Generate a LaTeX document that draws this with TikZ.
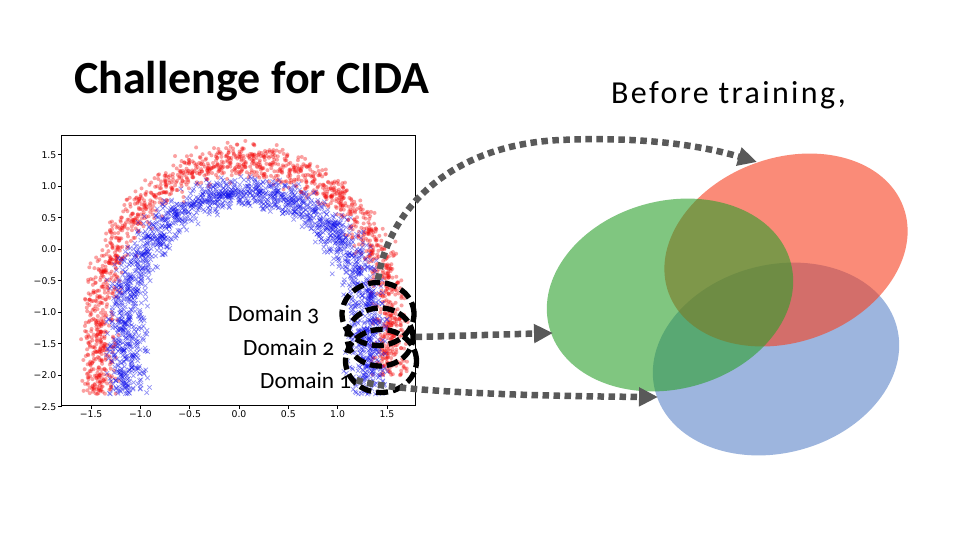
\documentclass[tikz,border=0pt]{standalone}
\usepackage{fontspec}
\setmainfont{Carlito}
\newfontfamily\domfont[Numbers=OldStyle]{Carlito}
\newfontfamily\befont[LetterSpace=7.5]{Carlito}
\newfontfamily\tickfont{DejaVu Sans}
\usetikzlibrary{arrows.meta,shapes.geometric}
\definecolor{arrgray}{HTML}{595959}
\definecolor{gEll}{RGB}{44,160,44}
\definecolor{rEll}{RGB}{247,63,30}
\definecolor{bEll}{RGB}{93,133,200}
\definecolor{dotred}{RGB}{245,10,10}
\definecolor{xblue}{RGB}{15,15,235}
\begin{document}
\begin{tikzpicture}[x=1pt,y=-1pt,
  flowarrow/.style={draw=arrgray, line width=6.5pt, dash pattern=on 6.5pt off 4.5pt,
     -{Triangle[length=19pt,width=18pt]}},
  domring/.style={ellipse, draw=black, line width=5.3pt, dash pattern=on 12pt off 5pt, inner sep=0pt},
  blob/.style={ellipse, draw=none, fill opacity=0.6, inner sep=0pt, outer sep=0pt},
  reddot/.style={fill=dotred, fill opacity=0.38},
  bluex/.style={draw=xblue, draw opacity=0.45, line width=0.7pt},
  ticklab/.style={font=\tickfont\fontsize{9.3}{9.3}\selectfont, inner sep=1.5pt},
  domlab/.style={anchor=base west, inner sep=0pt, font=\domfont\fontsize{23.3}{24}\selectfont}]
\useasboundingbox (0,0) rectangle (960,540);
\fill[white] (0,0) rectangle (960,540);

% ---------- scatter plot ----------
\begin{scope}
\clip (61.7,135) rectangle (415.7,405.5);
\begin{scope}[shift={(239,249.3)}, x=98.6pt, y=63pt]
\pgfmathsetseed{7}
% red moon: arch
\foreach \i in {1,...,1250}{
  \pgfmathsetmacro{\ang}{180*rnd}
  \pgfmathsetmacro{\px}{0.06+1.47*cos(\ang)+0.1*(rand+rand)}
  \pgfmathsetmacro{\py}{-1.1+2.5*sin(\ang)+0.17*(rand+rand)}
  \fill[reddot] (\px,\py) circle[radius=2pt];
}
% red moon: legs
\foreach \i in {1,...,230}{
  \pgfmathsetmacro{\px}{0.06-1.47+0.1*(rand+rand)}
  \pgfmathsetmacro{\py}{-1.1-1.2*rnd}
  \fill[reddot] (\px,\py) circle[radius=2pt];
}
\foreach \i in {1,...,170}{
  \pgfmathsetmacro{\px}{0.06+1.47+0.1*(rand+rand)}
  \pgfmathsetmacro{\py}{-1.1-0.9*rnd}
  \fill[reddot] (\px,\py) circle[radius=2pt];
}
% blue moon: arch
\foreach \i in {1,...,1350}{
  \pgfmathsetmacro{\ang}{180*rnd}
  \pgfmathsetmacro{\px}{0.08+1.22*cos(\ang)+0.12*(rand+rand)}
  \pgfmathsetmacro{\py}{-1.1+2.0*sin(\ang)+0.14*(rand+rand)}
  \draw[bluex] (\px,\py) +(-2.2pt,-2.2pt) -- +(2.2pt,2.2pt) +(-2.2pt,2.2pt) -- +(2.2pt,-2.2pt);
}
% blue moon: legs
\foreach \s in {-1,1}{
\foreach \i in {1,...,260}{
  \pgfmathsetmacro{\px}{0.08+\s*1.22+0.12*(rand+rand)}
  \pgfmathsetmacro{\py}{-1.1-1.2*rnd}
  \draw[bluex] (\px,\py) +(-2.2pt,-2.2pt) -- +(2.2pt,2.2pt) +(-2.2pt,2.2pt) -- +(2.2pt,-2.2pt);
}}
\end{scope}
\end{scope}
\draw[black, line width=0.8pt] (61.7,135) rectangle (415.7,405.5);
\foreach \v/\l in {1.5/1.5, 1.0/1.0, 0.5/0.5, 0.0/0.0, -0.5/−0.5, -1.0/−1.0, -1.5/−1.5, -2.0/−2.0, -2.5/−2.5}{
  \draw[line width=0.8pt] (61.7,{249.3-63*\v}) -- ++(-3.5,0) node[ticklab, anchor=east] {\l};
}
\foreach \v/\l in {-1.5/−1.5, -1.0/−1.0, -0.5/−0.5, 0.0/0.0, 0.5/0.5, 1.0/1.0, 1.5/1.5}{
  \draw[line width=0.8pt] ({239+98.6*\v},405.5) -- ++(0,3.5) node[ticklab, anchor=north] {\l};
}

% ---------- titles ----------
\node[anchor=base west, inner sep=0pt, font=\bfseries\fontsize{46}{50}\selectfont] (title) at (74,93.5) {Challenge for CIDA};
\node[anchor=base west, inner sep=0pt, font=\befont\fontsize{32}{34}\selectfont] (before) at (611,103.3) {Before training,};

% ---------- distributions ----------
\node[blob, fill=bEll, minimum width=250pt, minimum height=188pt, rotate=15] (blueblob) at (776,359) {};
\node[blob, fill=rEll, minimum width=250pt, minimum height=184pt, rotate=20] (redblob) at (786,250) {};
\node[blob, fill=gEll, minimum width=250pt, minimum height=188pt, rotate=15] (greenblob) at (670,295) {};

% ---------- domain rings and labels ----------
\node[domring, minimum width=72pt, minimum height=63pt] (ring3) at (378,314) {};
\node[domring, minimum width=66pt, minimum height=58pt] (ring2) at (380,337) {};
\node[domring, minimum width=71pt, minimum height=63pt] (ring1) at (381,361) {};
\node[domlab] (dom3) at (228,321.7) {Domain 3};
\node[domlab] (dom2) at (243,355) {Domain 2};
\node[domlab] (dom1) at (260,388) {Domain 1};

% ---------- arrows ----------
\coordinate (redhit) at (757,162);
\coordinate (greenhit) at (553,333);
\coordinate (bluehit) at (658,397);
\draw[flowarrow] (ring3.north) .. controls (388,210) and (450,145) .. (560,140)
   .. controls (640,136.4) and (700,145) .. (redhit);
\draw[flowarrow] (ring2.east) -- (greenhit);
\draw[flowarrow] ([xshift=5pt]dom1.east) .. controls (385,390) and (500,396) .. (bluehit);
\end{tikzpicture}
\end{document}
